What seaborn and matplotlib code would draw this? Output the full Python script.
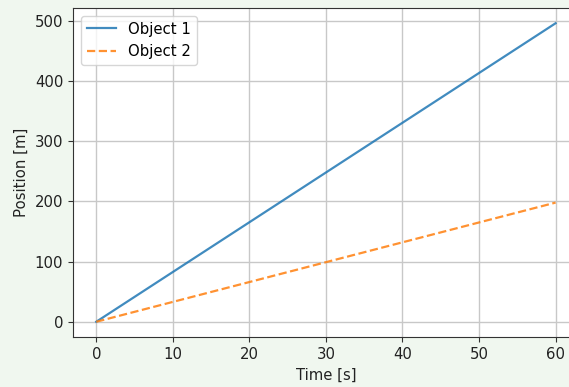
import matplotlib
matplotlib.use("Agg")
import matplotlib.pyplot as plt
import pandas as pd
import seaborn as sns

# Position of each object at the start and end of the run
time_s = [0, 60]
object1_m = [0, 496]
object2_m = [0, 198]
series_names = ["Object 1", "Object 2"]

df = pd.DataFrame({
    "Time [s]": time_s * 2,
    "Position [m]": object1_m + object2_m,
    "Object": [series_names[0]] * len(time_s) + [series_names[1]] * len(time_s),
})

plt.rcParams["font.family"] = ["DejaVu Sans"]
plt.rcParams["font.size"] = 10.7

fig = plt.figure(figsize=(5.69, 3.87), dpi=100, facecolor="#f0f7ef")
ax = fig.add_axes([0.1288, 0.130, 0.888, 0.8485])
ax.set_facecolor("white")

sns.lineplot(
    data=df, x="Time [s]", y="Position [m]", hue="Object", style="Object",
    palette=["#1f77b4", "#ff7f0e"], dashes=["", (3.7, 1.6)],
    linewidth=1.6, alpha=0.85, ax=ax,
)

ax.set_xlim(-3.0, 63.0)
ax.set_ylim(-24.8, 520.8)
ax.set_xticks([0, 10, 20, 30, 40, 50, 60])
ax.set_yticks([0, 100, 200, 300, 400, 500])
ax.grid(True, color="#c8c8c8", linewidth=1.0)
ax.set_axisbelow(True)
for s in ax.spines.values():
    s.set_color("#333333")
ax.tick_params(colors="#333333", labelcolor="#222222", length=3.8)
ax.set_xlabel("Time [s]", color="#222222")
ax.set_ylabel("Position [m]", color="#222222")
ax.legend(loc="upper left", title=None)

fig.savefig("out.png", dpi=100, facecolor=fig.get_facecolor())
